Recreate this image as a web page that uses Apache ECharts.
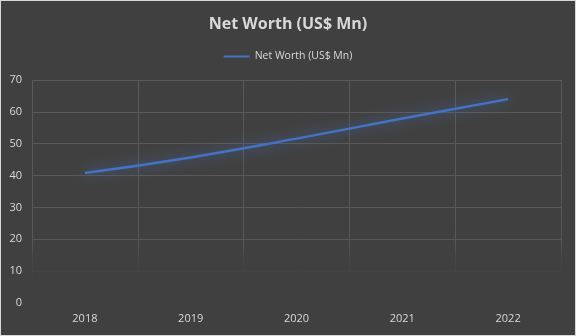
<!DOCTYPE html>
<html>
<head>
<meta charset="utf-8">
<script src="https://cdn.jsdelivr.net/npm/echarts@6/dist/echarts.min.js"></script>
<style>
  html, body { margin: 0; padding: 0; background: #d9d9d9; }
  #chart { position: absolute; left: 1px; top: 1px; width: 574px; height: 334px; background: #404040; }
</style>
</head>
<body>
<div id="chart"></div>
<script>
// Net worth by year, US$ millions
const years = ['2018', '2019', '2020', '2021', '2022'];
const netWorth = [40.8, 45.7, 51.6, 57.9, 64];
const seriesName = 'Net Worth (US$ Mn)';
const titleText = 'Net Worth (US$ Mn)';

const chart = echarts.init(document.getElementById('chart'), null, { renderer: 'canvas' });

// gridlines fade out towards the bottom of the plot
const gridColor = new echarts.graphic.LinearGradient(0, 78, 0, 303, [
  { offset: 0, color: '#5a5a5a' },
  { offset: 0.72, color: '#575757' },
  { offset: 0.8, color: 'rgba(87,87,87,0.25)' },
  { offset: 0.9, color: 'rgba(87,87,87,0)' },
  { offset: 1, color: 'rgba(87,87,87,0)' }
], true);

chart.setOption({
  backgroundColor: '#404040',
  animation: false,
  title: {
    text: titleText,
    left: 'center',
    top: 10,
    textStyle: { color: '#d9d9d9', fontFamily: 'Open Sans', fontWeight: 'bold', fontSize: 16 }
  },
  legend: {
    top: 45,
    left: 'center',
    itemWidth: 26,
    itemHeight: 10,
    itemGap: 4,
    icon: 'path://M0,4 L26,4 L26,6 L0,6 Z',
    textStyle: { color: '#d9d9d9', fontFamily: 'Open Sans', fontSize: 10.5 },
    data: [seriesName]
  },
  grid: { left: 31, right: 14, top: 79, bottom: 32, containLabel: false },
  xAxis: {
    type: 'category',
    data: years,
    boundaryGap: true,
    axisLine: { show: false },
    axisTick: { show: false },
    axisLabel: { color: '#d9d9d9', fontFamily: 'Open Sans', fontSize: 11, margin: 10 },
    splitLine: { show: true, lineStyle: { color: gridColor, width: 1 } }
  },
  yAxis: {
    type: 'value',
    min: 0,
    max: 70,
    interval: 10,
    axisLine: { show: false },
    axisTick: { show: false },
    axisLabel: { color: '#d9d9d9', fontFamily: 'Open Sans', fontSize: 11, margin: 10 },
    splitLine: { show: true, lineStyle: { color: gridColor, width: 1 } }
  },
  series: [{
    name: seriesName,
    type: 'line',
    data: netWorth,
    smooth: true,
    symbol: 'none',
    lineStyle: {
      color: '#4472c4',
      width: 2.5,
      shadowColor: 'rgba(68,114,196,0.9)',
      shadowBlur: 12
    },
    itemStyle: { color: '#4472c4' }
  }]
});
</script>
</body>
</html>
